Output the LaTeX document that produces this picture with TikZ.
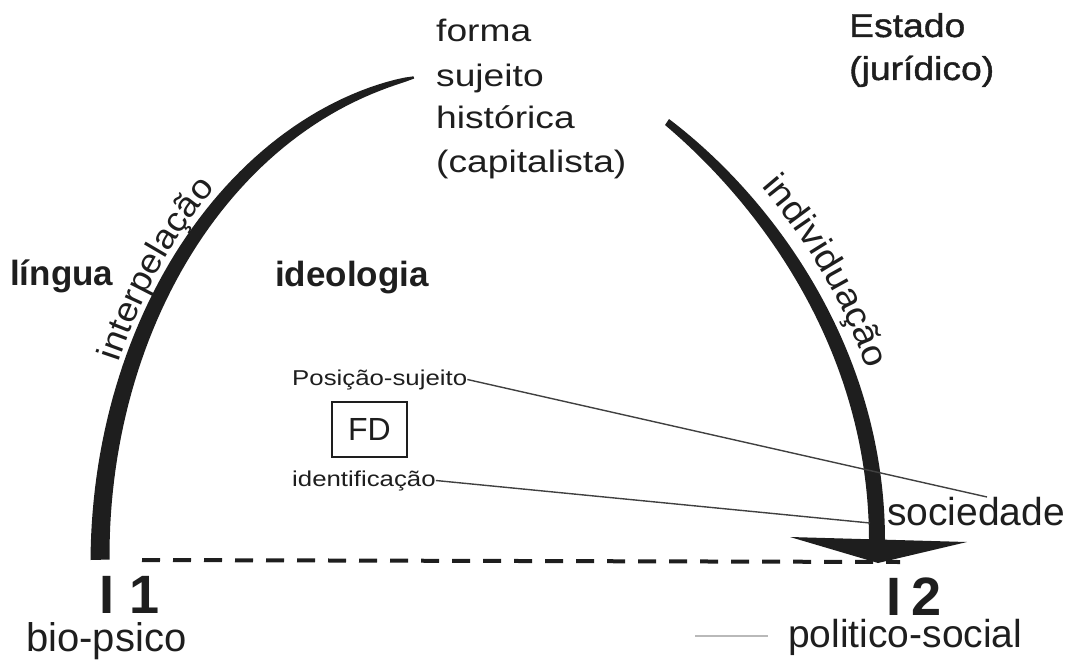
\documentclass[tikz,border=0pt]{standalone}
\usepackage{fontspec}
\usetikzlibrary{decorations.text}
\setmainfont{Liberation Sans}
\newfontfamily\fwideA[FakeStretch=1.2]{Liberation Sans}
\newfontfamily\fwideB[FakeStretch=1.13,FakeBold=1.2]{Liberation Sans}
\newfontfamily\fwideC[FakeStretch=1.08]{Liberation Sans}
\definecolor{ink}{HTML}{1E1E1E}
\begin{document}
\begin{tikzpicture}[x=1pt,y=-1pt,
  every node/.style={inner sep=0pt, text=ink},
  lbl/.style={anchor=base west},
  thinline/.style={draw=ink!85, line width=1.4pt},
  dashline/.style={draw=ink, line width=4pt, dash pattern=on 18pt off 13pt},
  boxstyle/.style={draw=ink, line width=1.6pt, minimum width=75pt, minimum height=55pt}
]
\useasboundingbox (0,0) rectangle (1073,661);

% left arc (interpelacao), tapering upward
\fill[ink] plot[domain=0:1, samples=60, variable=\t]
  ({480+(380+(8.5*sqrt(1.0001-\t)+1))*cos(180+80*\t)}, {560+(490+(8.5*sqrt(1.0001-\t)+1))*sin(180+80*\t)})
  -- plot[domain=1:0, samples=60, variable=\t]
  ({480+(380-(8.5*sqrt(1.0001-\t)+1))*cos(180+80*\t)}, {560+(490-(8.5*sqrt(1.0001-\t)+1))*sin(180+80*\t)})
  -- cycle;

% right arc (individuacao) with arrow head
\fill[ink] (665,125) .. controls (762,207) and (869,352) .. (869,541)
  -- (885,541) .. controls (885,348) and (772,197) .. (669,119) -- cycle;
\fill[ink] (790,537) -- (967,542) -- (878,563) -- cycle;

% curved labels along the arcs
\path[decorate, decoration={text along path, text align=center,
    text={|\color{ink}\fwideC\fontsize{34}{34}\selectfont|interpelação}}]
  plot[domain=194:238, samples=50, variable=\a] ({480+393*cos(\a)}, {560+503*sin(\a)});
\path[decorate, decoration={text along path, text align=center,
    text={|\color{ink}\fwideC\fontsize{35.5}{35.5}\selectfont|individuação}}]
  plot[domain=-53:-7, samples=50, variable=\a] ({322+578*cos(\a)}, {562+578*sin(\a)});

% texts
\node[lbl, font=\fwideA\fontsize{31}{31}\selectfont] (f1) at (436,42) {forma};
\node[lbl, font=\fwideA\fontsize{31}{31}\selectfont] (f2) at (436,86) {sujeito};
\node[lbl, font=\fwideA\fontsize{31}{31}\selectfont] (f3) at (436,128) {histórica};
\node[lbl, font=\fwideA\fontsize{31}{31}\selectfont] (f4) at (436,172) {(capitalista)};

\node[lbl, font=\fwideB\fontsize{33}{33}\selectfont] (est) at (849,37) {Estado};
\node[lbl, font=\fwideB\fontsize{33}{33}\selectfont] (jur) at (849,80) {(jurídico)};

\node[lbl, font=\bfseries\fontsize{35}{35}\selectfont] (lin) at (10,285) {língua};
\node[lbl, font=\bfseries\fontsize{35}{35}\selectfont] (ideo) at (275,286) {ideologia};

\node[lbl, font=\fwideA\fontsize{21.5}{21.5}\selectfont] (ps) at (292,385) {Posição-sujeito};
\node[boxstyle, font=\fontsize{32}{32}\selectfont] (fd) at (369.5,429.5) {FD};
\node[lbl, font=\fwideA\fontsize{21.5}{21.5}\selectfont] (id) at (292,486) {identificação};

\node[lbl, font=\fontsize{39}{39}\selectfont] (soc) at (887,525) {sociedade};

\node[lbl, font=\bfseries\fontsize{54}{54}\selectfont] (i1) at (99,613) {I 1};
\node[lbl, font=\bfseries\fontsize{54}{54}\selectfont] (i2) at (886,615) {I\hspace{0.2em}2};
\node[lbl, font=\fontsize{40}{40}\selectfont] (bio) at (26,651) {bio-psico};
\node[lbl, font=\fontsize{39}{39}\selectfont] (pol) at (788,647) {politico-social};

% connectors
\coordinate (e1) at (987,497);
\coordinate (e2) at (870,523);
\draw[thinline] (ps.east) -- (e1);
\draw[thinline] (id.east) -- (e2);

\coordinate (d1) at (142,560);
\coordinate (d2) at (900,562);
\draw[dashline] (d1) -- (d2);

\coordinate (g1) at (695,636);
\coordinate (g2) at (768,636);
\draw[gray!55, line width=2pt] (g1) -- (g2);
\end{tikzpicture}
\end{document}
